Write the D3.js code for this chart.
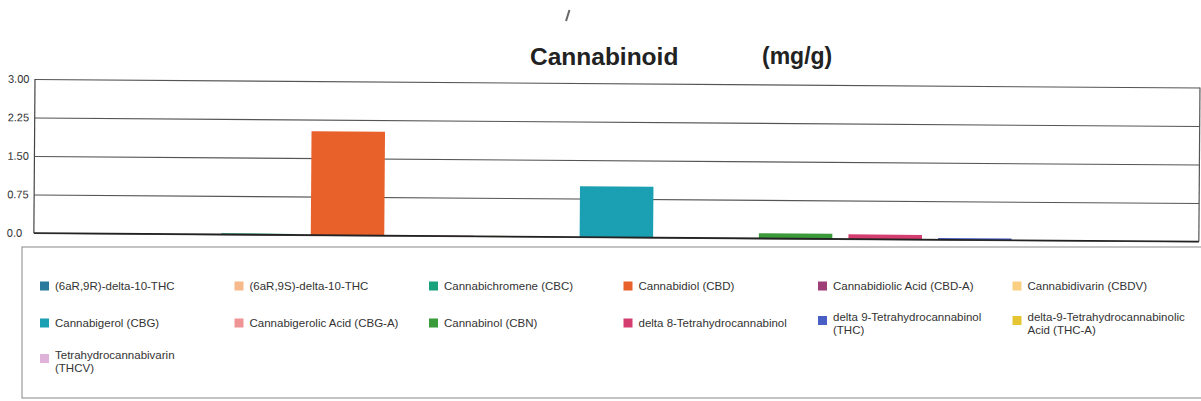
<!DOCTYPE html>
<html>
<head>
<meta charset="utf-8">
<script src="https://cdn.jsdelivr.net/npm/d3@7"></script>
<style>
  body { margin: 0; background: #fff; }
  text { font-family: "Liberation Sans", Arial, sans-serif; fill: #333; }
</style>
</head>
<body>
<div id="chart"></div>
<script>
// data
var categories = [
    "(6aR,9R)-delta-10-THC",
    "(6aR,9S)-delta-10-THC",
    "Cannabichromene (CBC)",
    "Cannabidiol (CBD)",
    "Cannabidiolic Acid (CBD-A)",
    "Cannabidivarin (CBDV)",
    "Cannabigerol (CBG)",
    "Cannabigerolic Acid (CBG-A)",
    "Cannabinol (CBN)",
    "delta 8-Tetrahydrocannabinol",
    "delta 9-Tetrahydrocannabinol (THC)",
    "delta-9-Tetrahydrocannabinolic Acid (THC-A)",
    "Tetrahydrocannabivarin (THCV)"
];
var values = [0, 0, 0.02, 2.02, 0.01, 0.01, 0.99, 0, 0.10, 0.09, 0.03, 0, 0];
var colors = ["#2b7a9e", "#f6b98c", "#19a27c", "#e8612b", "#9e3f78", "#fbcf82",
              "#1b9fb2", "#ef9494", "#3b9a3a", "#d43d6f", "#4a5fc6", "#e6c532", "#dfb2d9"];
var tickValues = [0, 0.75, 1.5, 2.25, 3];
var tickLabels = ["0.0", "0.75", "1.50", "2.25", "3.00"];

var svgWidth = 1201;
var svgHeight = 401;

var margin = { top: 79, right: 1, bottom: 168, left: 35 };
var width = svgWidth - margin.left - margin.right;
var height = svgHeight - margin.top - margin.bottom;

var svg = d3.select("#chart")
    .append("svg")
    .attr("width", svgWidth)
    .attr("height", svgHeight);

// title
svg.append("text")
    .attr("x", 530).attr("y", 65)
    .attr("font-size", "24.5px").attr("font-weight", "bold")
    .style("fill", "#222")
    .text("Cannabinoid");
svg.append("text")
    .attr("x", 762).attr("y", 64)
    .attr("font-size", "23px").attr("font-weight", "bold")
    .style("fill", "#222")
    .text("(mg/g)");
// the little pen mark above the title
svg.append("line")
    .attr("x1", 566).attr("y1", 21).attr("x2", 569.5).attr("y2", 10)
    .attr("stroke", "#666").attr("stroke-width", 2);

// scanned page is a touch tilted
var chartGroup = svg.append("g")
    .attr("transform", `translate(${margin.left}, ${margin.top}) rotate(0.42)`);

var xScale = d3.scaleBand()
    .domain(categories)
    .range([0, width])
    .paddingInner(0.18)
    .paddingOuter(0.09);

var yScale = d3.scaleLinear()
    .domain([0, 3])
    .range([height, 0]);

// gridlines
chartGroup.append("g")
    .call(d3.axisLeft(yScale).tickValues(tickValues).tickSize(-width).tickFormat(""))
    .call(g => g.select(".domain").remove())
    .call(g => g.selectAll(".tick line")
        .attr("stroke", "#555").attr("stroke-width", 1.1));

// tick labels (left aligned in the original)
chartGroup.selectAll(".ylab")
    .data(tickValues)
    .enter()
    .append("text")
    .attr("class", "ylab")
    .attr("x", -27)
    .attr("y", d => yScale(d))
    .attr("dy", "0.35em")
    .attr("font-size", "11px")
    .text((d, i) => tickLabels[i]);

// frame
chartGroup.append("line")
    .attr("x1", 0).attr("x2", 0).attr("y1", 0).attr("y2", height)
    .attr("stroke", "#444").attr("stroke-width", 1.2);
chartGroup.append("line")
    .attr("x1", width).attr("x2", width).attr("y1", 0).attr("y2", height)
    .attr("stroke", "#555").attr("stroke-width", 1.2);

// bars
chartGroup.selectAll("rect.bar")
    .data(values)
    .enter()
    .append("rect")
    .attr("class", "bar")
    .attr("x", (d, i) => xScale(categories[i]))
    .attr("y", d => yScale(d))
    .attr("width", xScale.bandwidth())
    .attr("height", d => height - yScale(d))
    .attr("fill", (d, i) => colors[i]);

// baseline
chartGroup.append("line")
    .attr("x1", 0).attr("x2", width).attr("y1", height).attr("y2", height)
    .attr("stroke", "#222").attr("stroke-width", 1.6);

// legend
var legend = svg.append("g");
legend.append("rect")
    .attr("x", 22).attr("y", 247)
    .attr("width", 1190).attr("height", 151)
    .attr("fill", "none")
    .attr("stroke", "#888").attr("stroke-width", 1);

var rowY = [286, 323, 361];
var wrapWidth = 155;

categories.forEach(function(name, i) {
    var col = i % 6, row = Math.floor(i / 6);
    var x = 40 + col * 194.5;
    var cy = rowY[row];
    var item = legend.append("g");

    var label = item.append("text")
        .attr("x", x + 15)
        .attr("font-size", "11.5px");

    // wrap words into lines
    var words = name.split(" ");
    var lines = [];
    var line = [];
    var tspan = label.append("tspan");
    words.forEach(function(w) {
        line.push(w);
        tspan.text(line.join(" "));
        if (tspan.node().getComputedTextLength() > wrapWidth && line.length > 1) {
            line.pop();
            lines.push(line.join(" "));
            line = [w];
        }
    });
    lines.push(line.join(" "));
    tspan.remove();

    var y0 = lines.length > 1 ? cy - 2.5 : cy + 4;
    lines.forEach(function(t, k) {
        label.append("tspan")
            .attr("x", x + 15)
            .attr("y", y0 + k * 13.5)
            .text(t);
    });

    item.append("rect")
        .attr("x", x)
        .attr("y", (lines.length > 1 ? cy - 7 : cy - 4.5))
        .attr("width", 9).attr("height", 9)
        .attr("fill", colors[i]);
});
</script>
</body>
</html>
